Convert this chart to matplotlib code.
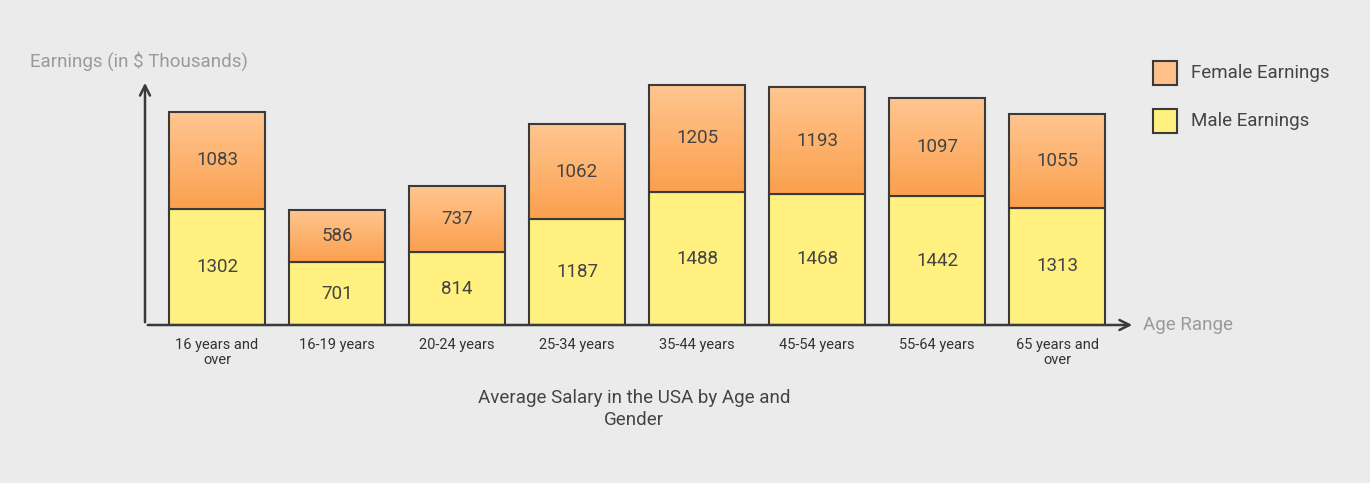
import matplotlib
matplotlib.use("Agg")
import matplotlib.pyplot as plt
import numpy as np
from matplotlib.colors import LinearSegmentedColormap

plt.rcParams['font.family'] = ['Roboto', 'DejaVu Sans']

categories = ["16 years and\nover", "16-19 years", "20-24 years", "25-34 years",
              "35-44 years", "45-54 years", "55-64 years", "65 years and\nover"]
male = [1302, 701, 814, 1187, 1488, 1468, 1442, 1313]
female = [1083, 586, 737, 1062, 1205, 1193, 1097, 1055]

W, H = 1370, 483
fig = plt.figure(figsize=(W/100, H/100), dpi=100)
fig.patch.set_facecolor("#EBEBEB")
x0, x1, yb, yt = 145, 1135, 325, 80
ax = fig.add_axes([x0/W, 1-yb/H, (x1-x0)/W, (yb-yt)/H])
ax.set_facecolor("none")
ymax = (yb-yt)/0.0893
ax.set_xlim(-0.6, 7.65)
ax.set_ylim(0, ymax)
for s in ax.spines.values():
    s.set_visible(False)
ax.set_xticks([]); ax.set_yticks([])

ec = "#3a3a3a"
bw = 0.8
cmap = LinearSegmentedColormap.from_list("f", ["#FFC690", "#FBA04E"])
grad = np.linspace(1, 0, 100).reshape(-1, 1)
for i, (m, f) in enumerate(zip(male, female)):
    ax.bar(i, m, bw, color="#FFF080", edgecolor=ec, linewidth=1.5, zorder=2)
    ax.imshow(grad, cmap=cmap, aspect="auto", origin="lower",
              extent=(i-bw/2, i+bw/2, m, m+f), zorder=2)
    ax.bar(i, f, bw, bottom=m, color="none", edgecolor=ec, linewidth=1.5, zorder=3)
    ax.text(i, m/2, str(m), ha="center", va="center", fontsize=13.5, color="#444", zorder=4)
    ax.text(i, m+f/2, str(f), ha="center", va="center", fontsize=13.5, color="#444", zorder=4)
    ax.text(i, -150, categories[i], ha="center", va="top", fontsize=10.5, color="#333",
            linespacing=1.1)

ax.annotate("", xy=(7.65, 0), xytext=(-0.6, 0),
            arrowprops=dict(arrowstyle="->", color=ec, lw=1.8, mutation_scale=18), annotation_clip=False)
ax.annotate("", xy=(-0.6, ymax), xytext=(-0.6, 0),
            arrowprops=dict(arrowstyle="->", color=ec, lw=1.8, mutation_scale=18), annotation_clip=False)

fig.text(1143/W, 1-325/H, "Age Range", fontsize=13.5, color="#9a9a9a", va="center")
fig.text(30/W, 1-61/H, "Earnings (in $ Thousands)", fontsize=13.5, color="#9a9a9a", va="center")
fig.text(634/W, 1-409/H, "Average Salary in the USA by Age and\nGender", fontsize=13.5,
         color="#444", ha="center", va="center", linespacing=1.3)

for yy, col, lab in [(73, "#FFC08A", "Female Earnings"), (121, "#FFF080", "Male Earnings")]:
    fig.patches.append(plt.Rectangle((1153/W, 1-(yy+12)/H), 24/W, 24/H, transform=fig.transFigure,
                                     facecolor=col, edgecolor=ec, lw=1.5))
    fig.text(1191/W, 1-yy/H, lab, fontsize=13.5, color="#444", va="center")

fig.savefig("out.png", dpi=100, facecolor=fig.get_facecolor())
